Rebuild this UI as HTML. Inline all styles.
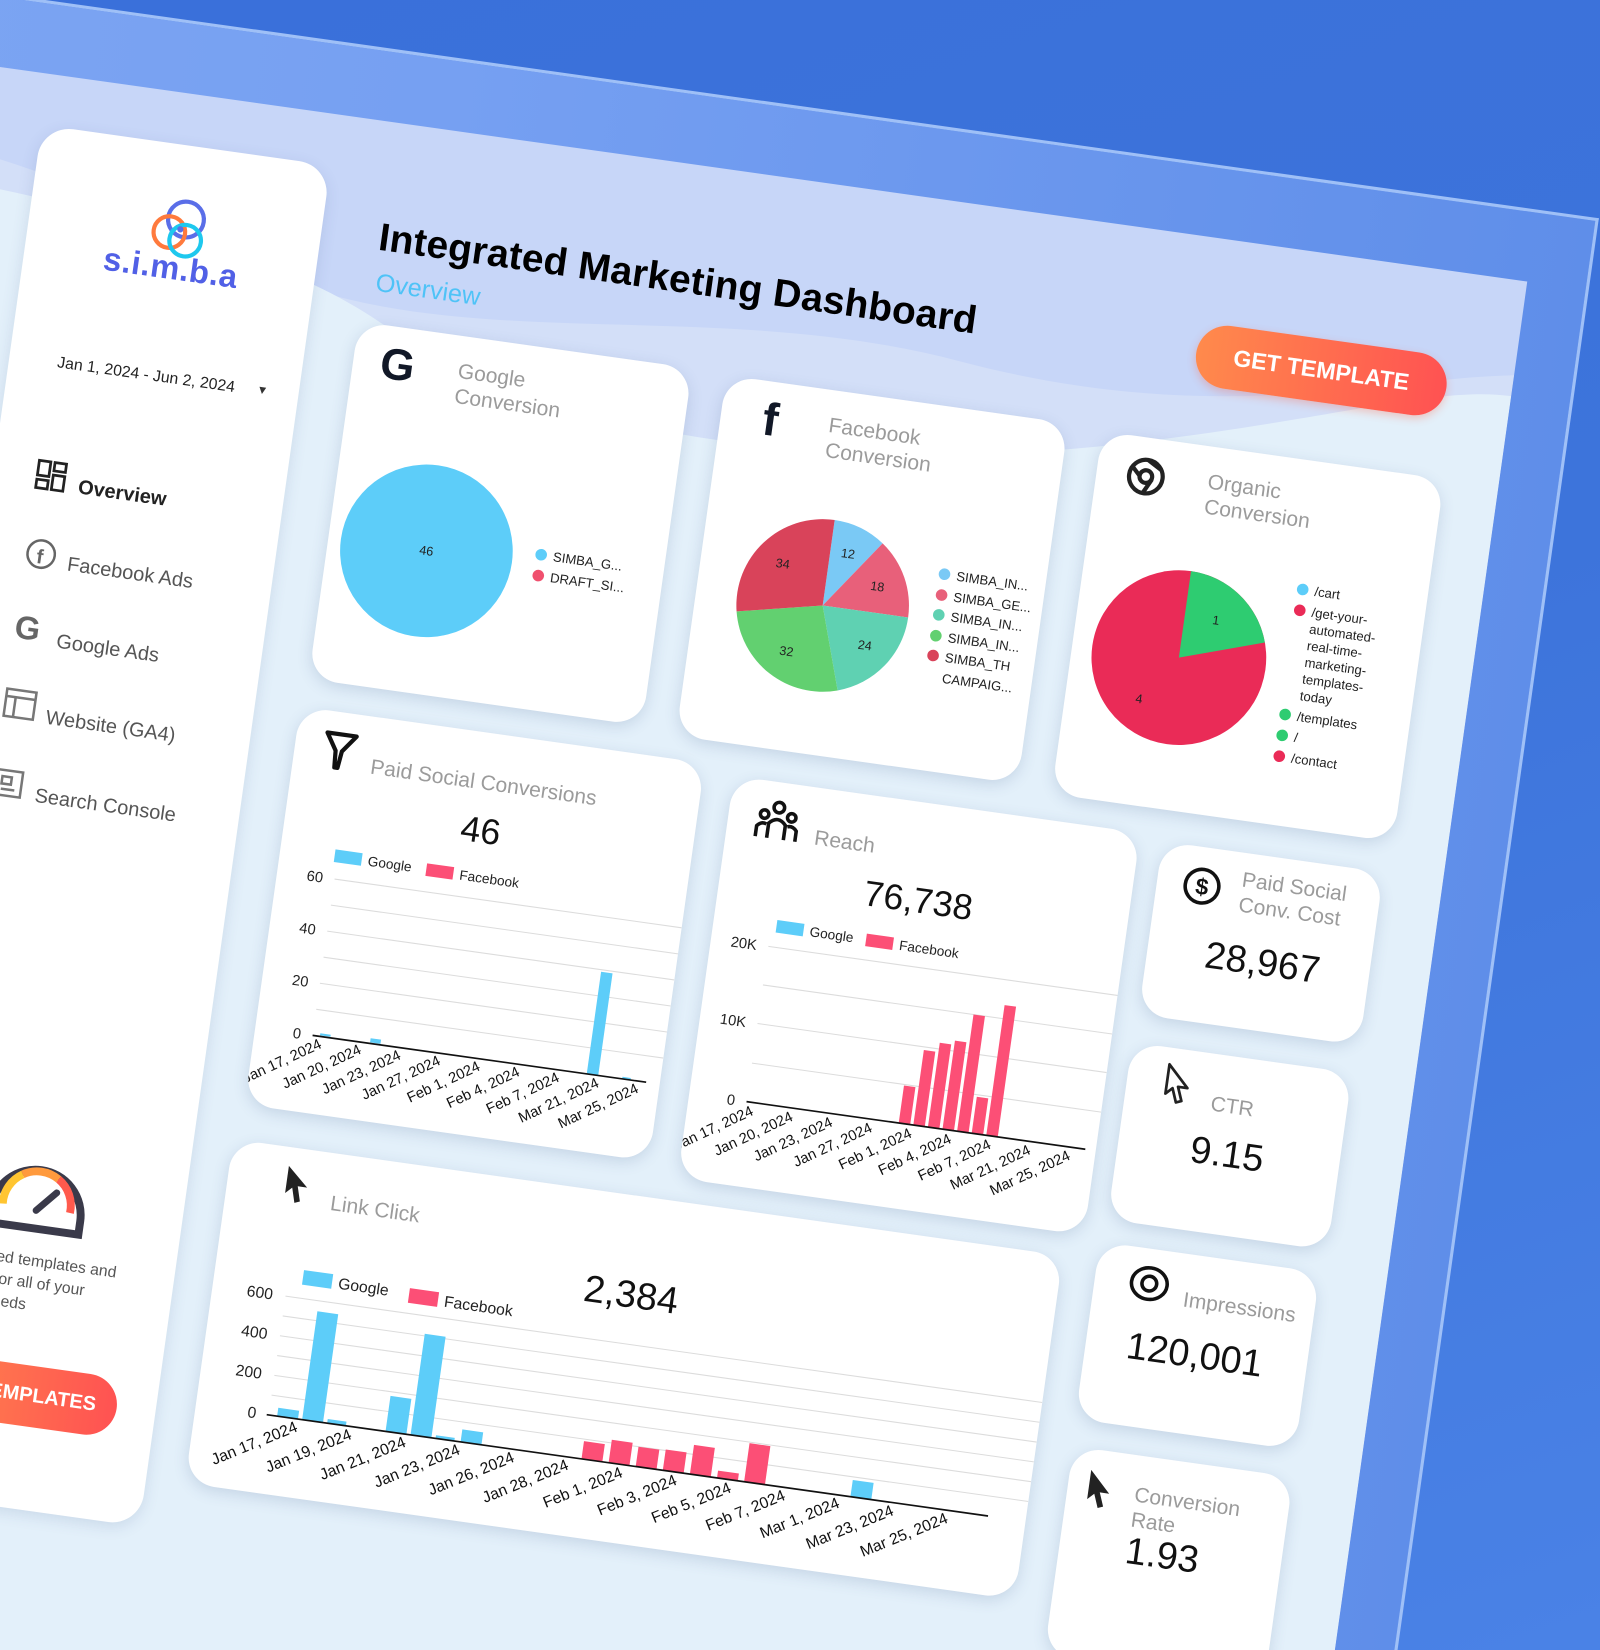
<!DOCTYPE html>
<html><head><meta charset="utf-8">
<style>
html,body{margin:0;padding:0;width:1600px;height:1650px;overflow:hidden;}
body{background:linear-gradient(160deg,#3a70da 0%,#3d74db 50%,#4a82e6 100%);font-family:"Liberation Sans",sans-serif;}
#root{position:absolute;left:0;top:0;width:1520px;height:1568px;transform-origin:0 0;transform:scale(1.05263,1.0523);overflow:hidden;}
#scene{position:absolute;left:0;top:0;width:1600px;height:1700px;transform-origin:0 0;transform:rotate(8deg);}
.abs{position:absolute;}
.card{position:absolute;background:#fff;border-radius:28px;box-shadow:0 4px 14px rgba(60,90,140,0.18);overflow:hidden;}
.ttl{position:absolute;color:#9b9b9b;font-size:20px;line-height:24px;}
.num{position:absolute;color:#111;font-size:34px;transform:translate(-50%,-50%);white-space:nowrap;}
.nav{position:absolute;font-size:19px;color:#555;}
.leg{position:absolute;font-size:12.5px;color:#222;line-height:19.5px;}
.dot{display:inline-block;width:11px;height:11px;border-radius:50%;margin-right:6px;vertical-align:-1px;}
</style></head><body>
<div id="root">
<div id="scene">
  <div class="abs" style="left:-300px;top:-6px;width:1830px;height:1700px;background:linear-gradient(90deg,#7ea6f3 0%,#76a0f2 40%,#5f8ee9 100%);border-top:3px solid #9fc0f7;border-right:3px solid #9fc0f7;"></div>
  <div class="abs" style="left:-300px;top:63px;width:1774px;height:1640px;background:#c7d6f8;overflow:hidden;">
    <svg width="1774" height="1640" style="position:absolute;left:0;top:0">
      <path d="M0,60 C200,60 400,90 560,150 C760,220 1000,120 1250,150 C1500,180 1650,110 1774,90 L1774,1640 L0,1640Z" fill="#d3dff8"/>
      <path d="M0,100 C300,110 560,120 700,190 C900,290 1200,260 1400,210 C1600,160 1700,110 1774,110 L1774,1640 L0,1640Z" fill="#e3f0fa"/>
    </svg>
  </div>

  <div class="abs" style="left:56px;top:112px;width:277px;height:1306px;background:#fff;border-radius:30px;box-shadow:0 4px 14px rgba(60,90,140,0.15);overflow:hidden;">
    <svg class="abs" style="left:112px;top:48px" width="64" height="64" viewBox="0 0 64 64">
      <circle cx="36" cy="22" r="17" fill="none" stroke="#5a6ee8" stroke-width="4"/>
      <circle cx="22" cy="36" r="15" fill="none" stroke="#ff7a3d" stroke-width="4"/>
      <circle cx="38" cy="42" r="15" fill="none" stroke="#1ec8ee" stroke-width="4"/>
      <circle cx="32" cy="32" r="3" fill="#5a6ee8"/>
    </svg>
    <div class="abs" style="left:60px;top:100px;width:160px;text-align:center;font-size:31px;font-weight:bold;color:#5160e6;letter-spacing:0.5px;">s.i.m.b.a</div>
    <div class="abs" style="left:46px;top:213px;font-size:15px;color:#222;white-space:nowrap;">Jan 1, 2024 - Jun 2, 2024</div>
    <div class="abs" style="left:237px;top:215px;font-size:11px;color:#333;">▼</div>
    <svg class="abs" style="left:40px;top:314px" width="30" height="30" viewBox="0 0 30 30"><g fill="none" stroke="#222" stroke-width="2.6"><rect x="2" y="2" width="11" height="14"/><rect x="17" y="2" width="11" height="8"/><rect x="2" y="20" width="11" height="8"/><rect x="17" y="14" width="11" height="14"/></g></svg>
    <div class="nav" style="left:82px;top:326px;color:#222;font-weight:bold;">Overview</div>
    <svg class="abs" style="left:41px;top:389px" width="30" height="30" viewBox="0 0 30 30"><circle cx="15" cy="15" r="13" fill="none" stroke="#666" stroke-width="2.4"/><text x="11" y="24" font-size="19" font-weight="bold" fill="#666" font-family="Liberation Sans">f</text></svg>
    <div class="nav" style="left:82px;top:400px;">Facebook Ads</div>
    <div class="abs" style="left:41px;top:458px;font-size:31px;font-weight:bold;color:#666;">G</div>
    <div class="nav" style="left:82px;top:474px;">Google Ads</div>
    <svg class="abs" style="left:40px;top:533px" width="32" height="30" viewBox="0 0 32 30"><g fill="none" stroke="#777" stroke-width="2.4"><rect x="2" y="2" width="28" height="26"/><line x1="2" y1="9" x2="30" y2="9"/><line x1="11" y1="9" x2="11" y2="28"/></g></svg>
    <div class="nav" style="left:82px;top:547px;">Website (GA4)</div>
    <svg class="abs" style="left:42px;top:608px" width="28" height="30" viewBox="0 0 28 30"><g fill="none" stroke="#777" stroke-width="2.4"><rect x="2" y="4" width="24" height="24"/><rect x="7" y="10" width="9" height="7"/><line x1="7" y1="22" x2="20" y2="22"/></g></svg>
    <div class="nav" style="left:82px;top:622px;">Search Console</div>
    <svg class="abs" style="left:88px;top:960px" width="100" height="86" viewBox="0 0 92 80">
      <path d="M6,62 A40,40 0 1 1 86,62 L86,74 L6,74Z" fill="#fff" stroke="#3a3a4a" stroke-width="7"/>
      <path d="M16,56 A30,30 0 0 1 30,28" fill="none" stroke="#ffc531" stroke-width="7"/>
      <path d="M30,28 A30,30 0 0 1 62,28" fill="none" stroke="#ff9a3d" stroke-width="7"/>
      <path d="M62,28 A30,30 0 0 1 76,56" fill="none" stroke="#ff5a4d" stroke-width="7"/>
      <line x1="46" y1="58" x2="62" y2="40" stroke="#3a3a4a" stroke-width="6" stroke-linecap="round"/>
    </svg>
    <div class="abs" style="left:30px;top:1060px;font-size:15px;color:#555;line-height:21px;white-space:nowrap;">Get advanced templates and<br>connectors for all of your<br>marketing needs</div>
    <div class="abs" style="left:40px;top:1169px;width:200px;height:58px;border-radius:29px;background:linear-gradient(90deg,#ff8a4c,#ff5252);color:#fff;font-weight:bold;font-size:19px;line-height:58px;text-align:right;padding-right:20px;box-sizing:border-box;">GET TEMPLATES</div>
  </div>

  <div class="abs" style="left:388px;top:152px;font-size:37px;font-weight:bold;color:#000;white-space:nowrap;letter-spacing:0.2px;">Integrated Marketing Dashboard</div>
  <div class="abs" style="left:391px;top:203px;font-size:24px;color:#4fc3f7;">Overview</div>
  <div class="abs" style="left:1172px;top:144px;width:240px;height:60px;border-radius:30px;background:linear-gradient(90deg,#ff8a4c,#ff5252);color:#fff;font-weight:bold;font-size:22px;line-height:60px;text-align:center;box-shadow:0 3px 8px rgba(255,90,60,0.3);">GET TEMPLATE</div>

  <div class="card" style="left:380px;top:255px;width:320px;height:343px;">
    <div class="abs" style="left:26px;top:12px;font-size:42px;font-weight:bold;color:#111827;">G</div>
    <div class="ttl" style="left:100px;top:22px;">Google<br>Conversion</div>
    <svg class="abs" style="left:0;top:0" width="320" height="343">
      <circle cx="94" cy="207" r="82" fill="#5dcdf9"/>
      <text x="94" y="211" font-size="12" text-anchor="middle" fill="#222" font-family="Liberation Sans">46</text>
    </svg>
    <div class="leg" style="left:197px;top:187px;"><span class="dot" style="background:#5dcdf9"></span>SIMBA_G...<br><span class="dot" style="background:#f0506e"></span>DRAFT_SI...</div>
  </div>

  <div class="card" style="left:733px;top:257px;width:328px;height:346px;">
    <div class="abs" style="left:40px;top:12px;font-size:44px;font-weight:bold;color:#111827;">f</div>
    <div class="ttl" style="left:103px;top:22px;">Facebook<br>Conversion</div>
    <svg class="abs" style="left:0;top:0" width="328" height="346">
      <g transform="translate(121,204)" font-family="Liberation Sans" font-size="12" fill="#222" text-anchor="middle">
        <path d="M0,0 L0,-82 A82,82 0 0 1 48.2,-66.3Z" fill="#7ac9f5"/>
        <path d="M0,0 L48.2,-66.3 A82,82 0 0 1 82,0Z" fill="#e8607a"/>
        <path d="M0,0 L82,0 A82,82 0 0 1 25.3,78Z" fill="#5fd1b2"/>
        <path d="M0,0 L25.3,78 A82,82 0 0 1 -80.2,17Z" fill="#62d070"/>
        <path d="M0,0 L-80.2,17 A82,82 0 0 1 0,-82Z" fill="#d9435a"/>
        <text x="17" y="-48">12</text><text x="49" y="-21">18</text><text x="45" y="36">24</text><text x="-28" y="52">32</text><text x="-43" y="-30">34</text>
      </g>
    </svg>
    <div class="leg" style="left:226px;top:150px;"><span class="dot" style="background:#7ac9f5"></span>SIMBA_IN...<br><span class="dot" style="background:#e8607a"></span>SIMBA_GE...<br><span class="dot" style="background:#5fd1b2"></span>SIMBA_IN...<br><span class="dot" style="background:#62d070"></span>SIMBA_IN...<br><span class="dot" style="background:#d9435a"></span>SIMBA_TH<br><span style="margin-left:17px">CAMPAIG...</span></div>
  </div>

  <div class="card" style="left:1094px;top:260px;width:328px;height:348px;">
    <svg class="abs" style="left:28px;top:18px" width="38" height="38" viewBox="0 0 38 38"><circle cx="19" cy="19" r="16" fill="none" stroke="#222" stroke-width="4"/><circle cx="19" cy="19" r="6" fill="none" stroke="#222" stroke-width="4"/><path d="M19,3 L33,11 M25,21 L18,35 M13,19 L4,10" stroke="#222" stroke-width="4"/></svg>
    <div class="ttl" style="left:106px;top:22px;">Organic<br>Conversion</div>
    <svg class="abs" style="left:0;top:0" width="328" height="348">
      <g transform="translate(102,203)" font-family="Liberation Sans" font-size="12" fill="#222" text-anchor="middle">
        <circle r="83" fill="#ea2b57"/>
        <path d="M0,0 L0,-83 A83,83 0 0 1 78.9,-25.6Z" fill="#2ecc71"/>
        <text x="30" y="-36">1</text><text x="-32" y="48">4</text>
      </g>
    </svg>
    <div class="leg" style="left:204px;top:115px;line-height:16px;font-size:12.5px;">
      <div style="margin-bottom:4px"><span class="dot" style="background:#5dcdf9"></span>/cart</div>
      <div style="display:flex;"><span class="dot" style="background:#ea2b57;flex:none;margin-top:2px"></span><span style="white-space:nowrap;">/get-your-<br>automated-<br>real-time-<br>marketing-<br>templates-<br>today</span></div>
      <div style="margin-top:4px"><span class="dot" style="background:#2ecc71"></span>/templates</div>
      <div style="margin-top:4px"><span class="dot" style="background:#2ecc71"></span>/</div>
      <div style="margin-top:4px"><span class="dot" style="background:#ea2b57"></span>/contact</div>
    </div>
  </div>

  <div class="card" style="left:376px;top:625px;width:388px;height:382px;">
    <svg class="abs" style="left:26px;top:18px" width="34" height="38" viewBox="0 0 34 38"><path d="M3,3 L31,3 L19,19 L17,35 L14,35 L13,19Z" fill="none" stroke="#111" stroke-width="4" stroke-linejoin="round"/></svg>
    <div class="ttl" style="left:74px;top:36px;">Paid Social Conversions</div>
    <div class="num" style="left:186px;top:94px;">46</div>
    <svg class="abs" style="left:0;top:0" width="388" height="382" font-family="Liberation Sans">
      <rect x="52" y="130" width="26" height="12" fill="#5dcdf9"/><text x="84" y="141" font-size="13" fill="#222">Google</text>
      <rect x="140" y="131" width="26" height="12" fill="#fc4f76"/><text x="172" y="142" font-size="13" fill="#222">Facebook</text>
      <g stroke="#dcdcdc" stroke-width="1">
        <line x1="55" y1="158" x2="388" y2="158"/><line x1="55" y1="183" x2="388" y2="183"/><line x1="55" y1="208" x2="388" y2="208"/><line x1="55" y1="233" x2="388" y2="233"/><line x1="55" y1="258" x2="388" y2="258"/><line x1="55" y1="283" x2="388" y2="283"/>
      </g>
      <g font-size="14" fill="#222" text-anchor="end"><text x="44" y="163">60</text><text x="44" y="213">40</text><text x="44" y="263">20</text><text x="44" y="313">0</text></g>
      <rect x="62" y="305" width="10" height="2" fill="#5dcdf9"/>
      <rect x="110" y="303" width="10" height="4" fill="#5dcdf9"/>
      <rect x="318" y="210" width="11" height="98" fill="#5dcdf9"/>
      <rect x="352" y="306" width="8" height="2" fill="#5dcdf9"/>
      <line x1="55" y1="308" x2="375" y2="308" stroke="#111" stroke-width="1.6"/>
      <g font-size="14" fill="#111" text-anchor="end">
        <text transform="translate(66,318) rotate(-33)">Jan 17, 2024</text>
        <text transform="translate(104,318) rotate(-33)">Jan 20, 2024</text>
        <text transform="translate(142,318) rotate(-33)">Jan 23, 2024</text>
        <text transform="translate(180,318) rotate(-33)">Jan 27, 2024</text>
        <text transform="translate(218,318) rotate(-33)">Feb 1, 2024</text>
        <text transform="translate(256,318) rotate(-33)">Feb 4, 2024</text>
        <text transform="translate(294,318) rotate(-33)">Feb 7, 2024</text>
        <text transform="translate(332,318) rotate(-33)">Mar 21, 2024</text>
        <text transform="translate(370,318) rotate(-33)">Mar 25, 2024</text>
      </g>
    </svg>
  </div>

  <div class="card" style="left:793px;top:633px;width:390px;height:386px;">
    <svg class="abs" style="left:26px;top:16px" width="42" height="40" viewBox="0 0 42 40"><g fill="none" stroke="#111" stroke-width="3.4"><circle cx="21" cy="8" r="5"/><circle cx="8" cy="16" r="4"/><circle cx="34" cy="16" r="4"/><path d="M13,38 L13,24 Q21,15 29,24 L29,38"/><path d="M2,38 L2,28 Q6,23 11,25"/><path d="M40,38 L40,28 Q36,23 31,25"/></g></svg>
    <div class="ttl" style="left:84px;top:36px;">Reach</div>
    <div class="num" style="left:190px;top:94px;">76,738</div>
    <svg class="abs" style="left:0;top:0" width="390" height="386" font-family="Liberation Sans">
      <rect x="60" y="130" width="26" height="12" fill="#5dcdf9"/><text x="92" y="141" font-size="13" fill="#222">Google</text>
      <rect x="146" y="131" width="26" height="12" fill="#fc4f76"/><text x="178" y="142" font-size="13" fill="#222">Facebook</text>
      <g stroke="#dcdcdc" stroke-width="1"><line x1="55" y1="156" x2="390" y2="156"/><line x1="55" y1="193" x2="390" y2="193"/><line x1="55" y1="230" x2="390" y2="230"/><line x1="55" y1="268" x2="390" y2="268"/></g>
      <g font-size="14" fill="#222" text-anchor="end"><text x="44" y="161">20K</text><text x="44" y="235">10K</text><text x="44" y="310">0</text></g>
      <g fill="#fc4f76">
        <rect x="201" y="269" width="11" height="36"/>
        <rect x="215" y="233" width="11" height="72"/>
        <rect x="229" y="224" width="11" height="81"/>
        <rect x="243" y="220" width="11" height="85"/>
        <rect x="257" y="193" width="11" height="112"/>
        <rect x="271" y="270" width="11" height="35"/>
        <rect x="285" y="180" width="11" height="125"/>
      </g>
      <line x1="55" y1="305" x2="380" y2="305" stroke="#111" stroke-width="1.6"/>
      <g font-size="14" fill="#111" text-anchor="end">
        <text transform="translate(64,316) rotate(-33)">Jan 17, 2024</text>
        <text transform="translate(102,316) rotate(-33)">Jan 20, 2024</text>
        <text transform="translate(140,316) rotate(-33)">Jan 23, 2024</text>
        <text transform="translate(178,316) rotate(-33)">Jan 27, 2024</text>
        <text transform="translate(216,316) rotate(-33)">Feb 1, 2024</text>
        <text transform="translate(254,316) rotate(-33)">Feb 4, 2024</text>
        <text transform="translate(292,316) rotate(-33)">Feb 7, 2024</text>
        <text transform="translate(330,316) rotate(-33)">Mar 21, 2024</text>
        <text transform="translate(368,316) rotate(-33)">Mar 25, 2024</text>
      </g>
    </svg>
  </div>

  <div class="card" style="left:370px;top:1041px;width:796px;height:330px;">
    <svg class="abs" style="left:52px;top:16px" width="28" height="38" viewBox="0 0 28 38"><path d="M4,2 L4,28 L10,22 L14,36 L19,34 L15,20 L24,20Z" fill="#222"/></svg>
    <div class="ttl" style="left:100px;top:36px;">Link Click</div>
    <div class="num" style="left:395px;top:94px;font-size:36px;">2,384</div>
    <svg class="abs" style="left:0;top:0" width="796" height="330" font-family="Liberation Sans">
      <rect x="84" y="114" width="28" height="14" fill="#5dcdf9"/><text x="118" y="127" font-size="15" fill="#222">Google</text>
      <rect x="186" y="117" width="28" height="14" fill="#fc4f76"/><text x="220" y="130" font-size="15" fill="#222">Facebook</text>
      <g stroke="#dcdcdc" stroke-width="1"><line x1="70" y1="141" x2="796" y2="141"/><line x1="70" y1="160" x2="796" y2="160"/><line x1="70" y1="179" x2="796" y2="179"/><line x1="70" y1="198" x2="796" y2="198"/><line x1="70" y1="217" x2="796" y2="217"/><line x1="70" y1="236" x2="796" y2="236"/></g>
      <g font-size="15" fill="#222" text-anchor="end"><text x="58" y="146">600</text><text x="58" y="184">400</text><text x="58" y="222">200</text><text x="58" y="260">0</text></g>
      <g fill="#5dcdf9">
        <rect x="78" y="247" width="20" height="8"/>
        <rect x="102" y="151" width="20" height="104"/>
        <rect x="126" y="251" width="18" height="4"/>
        <rect x="182" y="221" width="20" height="34"/>
        <rect x="206" y="158" width="20" height="97"/>
        <rect x="230" y="252" width="18" height="3"/>
        <rect x="254" y="243" width="20" height="12"/>
        <rect x="628" y="239" width="20" height="16"/>
      </g>
      <g fill="#fc4f76">
        <rect x="370" y="238" width="20" height="17"/>
        <rect x="396" y="233" width="20" height="22"/>
        <rect x="422" y="236" width="20" height="19"/>
        <rect x="448" y="235" width="20" height="20"/>
        <rect x="474" y="227" width="20" height="28"/>
        <rect x="500" y="248" width="20" height="7"/>
        <rect x="526" y="218" width="20" height="37"/>
      </g>
      <line x1="68" y1="255" x2="760" y2="255" stroke="#111" stroke-width="1.6"/>
      <g font-size="15" fill="#111" text-anchor="end">
        <text transform="translate(100,266) rotate(-30)">Jan 17, 2024</text>
        <text transform="translate(152,266) rotate(-30)">Jan 19, 2024</text>
        <text transform="translate(204,266) rotate(-30)">Jan 21, 2024</text>
        <text transform="translate(256,266) rotate(-30)">Jan 23, 2024</text>
        <text transform="translate(308,266) rotate(-30)">Jan 26, 2024</text>
        <text transform="translate(360,266) rotate(-30)">Jan 28, 2024</text>
        <text transform="translate(412,266) rotate(-30)">Feb 1, 2024</text>
        <text transform="translate(464,266) rotate(-30)">Feb 3, 2024</text>
        <text transform="translate(516,266) rotate(-30)">Feb 5, 2024</text>
        <text transform="translate(568,266) rotate(-30)">Feb 7, 2024</text>
        <text transform="translate(620,266) rotate(-30)">Mar 1, 2024</text>
        <text transform="translate(672,266) rotate(-30)">Mar 23, 2024</text>
        <text transform="translate(724,266) rotate(-30)">Mar 25, 2024</text>
      </g>
    </svg>
  </div>

  <div class="card" style="left:1205px;top:638px;width:212px;height:166px;">
    <svg class="abs" style="left:24px;top:18px" width="38" height="38" viewBox="0 0 38 38"><circle cx="19" cy="19" r="16" fill="none" stroke="#111" stroke-width="3.4"/><text x="19" y="27" font-size="22" font-weight="bold" text-anchor="middle" fill="#111" font-family="Liberation Sans">$</text></svg>
    <div class="ttl" style="left:80px;top:14px;">Paid Social<br>Conv. Cost</div>
    <div class="num" style="left:110px;top:101px;font-size:36px;">28,967</div>
  </div>

  <div class="card" style="left:1203px;top:831px;width:211px;height:170px;">
    <svg class="abs" style="left:34px;top:14px" width="28" height="40" viewBox="0 0 28 40"><path d="M4,2 L4,30 L10,24 L15,37 L20,35 L15,22 L24,22Z" fill="none" stroke="#222" stroke-width="2.6" stroke-linejoin="round"/></svg>
    <div class="ttl" style="left:82px;top:36px;">CTR</div>
    <div class="num" style="left:104px;top:93px;font-size:36px;">9.15</div>
  </div>

  <div class="card" style="left:1199px;top:1023px;width:211px;height:170px;">
    <svg class="abs" style="left:32px;top:15px" width="40" height="36" viewBox="0 0 40 36"><ellipse cx="20" cy="18" rx="17" ry="15" fill="none" stroke="#111" stroke-width="3.4"/><circle cx="20" cy="18" r="7" fill="none" stroke="#111" stroke-width="3.4"/></svg>
    <div class="ttl" style="left:86px;top:32px;">Impressions</div>
    <div class="num" style="left:104px;top:94px;font-size:36px;">120,001</div>
  </div>

  <div class="card" style="left:1201px;top:1219px;width:211px;height:200px;">
    <svg class="abs" style="left:16px;top:18px" width="28" height="40" viewBox="0 0 28 40"><path d="M4,2 L4,30 L10,24 L15,37 L20,35 L15,22 L24,22Z" fill="#222"/></svg>
    <div class="ttl" style="left:64px;top:26px;">Conversion<br>Rate</div>
    <div class="num" style="left:98px;top:91px;font-size:36px;">1.93</div>
  </div>
</div>
</div>
</body></html>
